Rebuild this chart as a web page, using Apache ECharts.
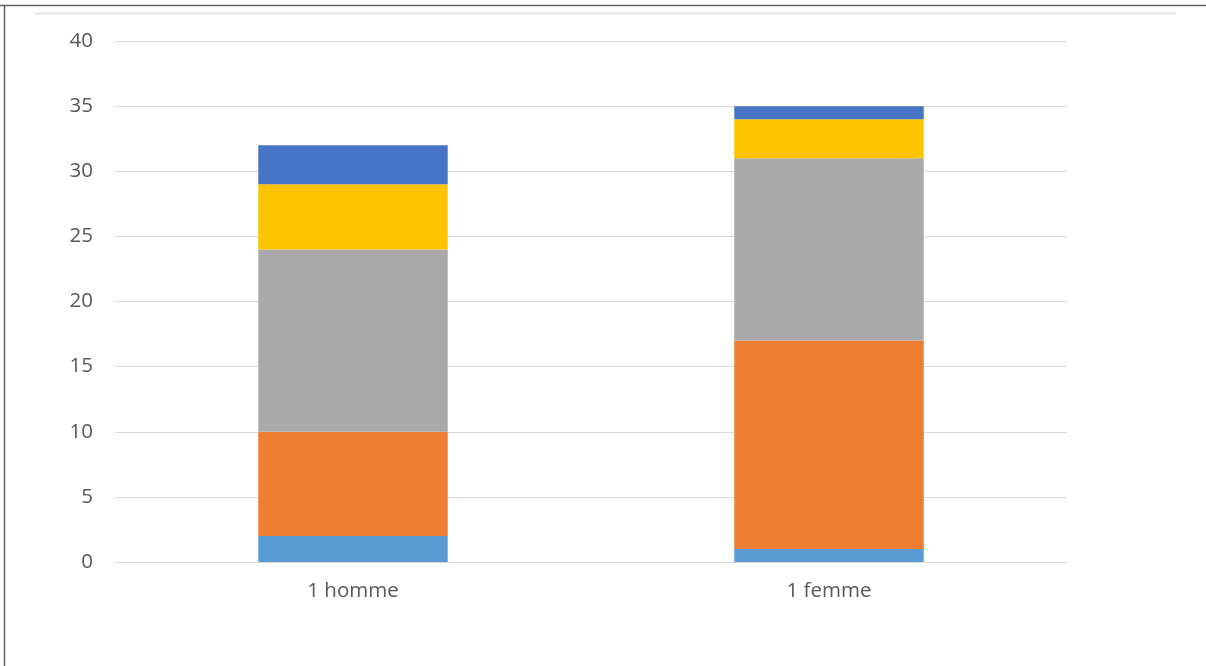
<!DOCTYPE html>
<html>
<head>
<meta charset="utf-8">
<script src="https://cdn.jsdelivr.net/npm/echarts@6/dist/echarts.min.js"></script>
<style>html,body{margin:0;padding:0;background:#fff;}#c{width:1206px;height:666px;}</style>
</head>
<body>
<div id="c"></div>
<script>
var categories = ['1 homme', '1 femme'];
var serie1 = [2, 1];
var serie2 = [8, 16];
var serie3 = [14, 14];
var serie4 = [5, 3];
var serie5 = [3, 1];
var yTicks = [0, 5, 10, 15, 20, 25, 30, 35, 40];

var colors = ['#5B9BD5', '#ED7D31', '#A9A9A9', '#FFC400', '#4775C6'];
var seriesData = [serie1, serie2, serie3, serie4, serie5];

var chart = echarts.init(document.getElementById('c'));
chart.setOption({
  animation: false,
  backgroundColor: '#fff',
  graphic: [
    { type: 'line', shape: { x1: 0, y1: 5.5, x2: 1206, y2: 5.5 }, style: { stroke: '#5f5f5f', lineWidth: 1.5 } },
    { type: 'line', shape: { x1: 4.5, y1: 5, x2: 4.5, y2: 666 }, style: { stroke: '#5f5f5f', lineWidth: 1.5 } },
    { type: 'line', shape: { x1: 35, y1: 13.5, x2: 1176, y2: 13.5 }, style: { stroke: '#dadada', lineWidth: 1.5 } }
  ],
  grid: { left: 115, right: 139, top: 41, bottom: 104, containLabel: false },
  xAxis: {
    type: 'category',
    data: categories,
    axisTick: { show: false },
    axisLine: { show: true, lineStyle: { color: '#d9d9d9', width: 1 } },
    axisLabel: { color: '#595959', fontSize: 20.5, fontFamily: 'Open Sans', margin: 19 }
  },
  yAxis: {
    type: 'value',
    min: yTicks[0],
    max: yTicks[yTicks.length - 1],
    interval: 5,
    axisLine: { show: false },
    axisTick: { show: false },
    splitLine: { lineStyle: { color: '#d9d9d9', width: 1 } },
    axisLabel: { color: '#595959', fontSize: 20.5, fontFamily: 'Open Sans', margin: 22 }
  },
  series: seriesData.map(function (d, i) {
    return {
      type: 'bar',
      stack: 'total',
      data: d,
      barWidth: '39.8%',
      itemStyle: { color: colors[i] }
    };
  })
});
</script>
</body>
</html>
